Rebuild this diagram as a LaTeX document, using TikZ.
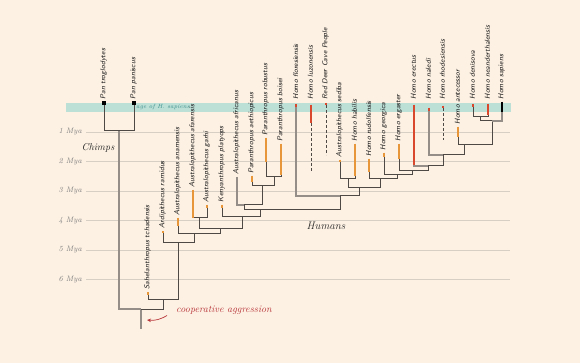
\documentclass[tikz,border=0pt]{standalone}
\usepackage{tikz}
\usetikzlibrary{positioning}
\usetikzlibrary{arrows.meta}

\definecolor{paper}{HTML}{FDF1E3}
\definecolor{band}{HTML}{BCDFD6}
\definecolor{bandtext}{HTML}{3A8F8A}
\definecolor{gridgray}{HTML}{D8CFC4}
\definecolor{treedark}{HTML}{4E4945}
\definecolor{treepale}{HTML}{958E88}
\definecolor{fossilorange}{HTML}{E8963A}
\definecolor{fossilred}{HTML}{D9482C}
\definecolor{aggred}{HTML}{B8353A}

\tikzset{
  tip/.style={rotate=90, anchor=west, inner sep=0.5pt, text=black!90,
    font=\sffamily\itshape\fontsize{7.2}{8}\selectfont},
  mya/.style={anchor=east, inner sep=1pt, text=black!50,
    font=\itshape\fontsize{7.8}{9}\selectfont},
  group/.style={inner sep=1pt, text=black!85, font=\itshape\fontsize{10}{12}\selectfont},
  branch/.style={draw=treedark, line width=1pt},
  pale/.style={draw=treepale, line width=1.3pt},
  axisline/.style={draw=gridgray, line width=0.6pt},
  fossil/.style={draw=fossilorange, line width=1.7pt},
  recent/.style={draw=fossilred, line width=1.7pt},
  unlinked/.style={draw=treedark, line width=0.7pt, densely dashed},
}

\begin{document}
\begin{tikzpicture}[x=1pt,y=-1pt]
\fill[paper] (0,0) rectangle (580,363);
\useasboundingbox (0,0) rectangle (580,363);

% age of H. sapiens
\fill[band] (66,103) rectangle (511,112);
\node[inner sep=0pt, text=bandtext, font=\itshape\fontsize{6}{7}\selectfont]
  (sapband) at (163,107.5) {age of H. sapiens};

% time axis
\foreach \t in {1,...,6}{
  \draw[axisline] (86,{102.5+29.5*\t}) -- (510,{102.5+29.5*\t});
  \node[mya] (mya\t) at (83,{102.5+29.5*\t}) {\t\ Mya};
}

% tips: name / x / top / label
\foreach \n/\x/\y/\t in {
  pt/104/102/Pan troglodytes, pp/134/102/Pan paniscus,
  sah/148/292/Sahelanthropus tchadensis, ard/163/231/Ardipithecus ramidus,
  ana/178/218/Australopithecus anamensis, afa/193/190/Australopithecus afarensis,
  gar/207/205/Australopithecus garhi, ken/222/205/Kenyanthropus platyops,
  afr/237/177/Australopithecus africanus, aet/252/176/Paranthropus aethiopicus,
  rob/266/138/Paranthropus robustus, boi/281/144/Paranthropus boisei,
  flo/296/104/Homo floresiensis, luz/311/105/Homo luzonensis,
  rdc/326/103/Red Deer Cave People, sed/340/160/Australopithecus sediba,
  hab/355/144/Homo habilis, rud/369/159/Homo rudolfensis,
  geo/384/153/Homo georgica, erg/399/144/Homo ergaster,
  ere/414/105/Homo erectus, nal/429/108/Homo naledi,
  rho/443/106/Homo rhodesiensis, ant/458/127/Homo antecessor,
  den/473/104/Homo denisova, nea/488/104/Homo neanderthalensis,
  sap/502/102/Homo sapiens}{
  \coordinate (\n) at (\x,\y);
  \pgfmathsetmacro\ly{\y>112 ? \y-2 : 100}
  \node[tip] (\n-lab) at ({\x-0.5},\ly) {\t};
}

% internal nodes
\coordinate (nPan) at (119,131);
\coordinate (root) at (141,309);
\coordinate (base) at (141,329);
\coordinate (nS) at (163,299);
\coordinate (nA) at (178,242);
\coordinate (nB) at (194,233);
\coordinate (nC) at (220,228);
\coordinate (nAG) at (199,218);
\coordinate (nD) at (242,217);
\coordinate (nHum) at (260,210);
\coordinate (nAfr) at (244,205);
\coordinate (nPar) at (262,186);
\coordinate (nRB) at (274,177);
\coordinate (nFlo) at (340,196);
\coordinate (nHab) at (359,188);
\coordinate (nSH) at (348,179);
\coordinate (nRud) at (380,179);
\coordinate (nGeo) at (397,175);
\coordinate (nErg) at (412,171);
\coordinate (nEre) at (428,166);
\coordinate (nNal) at (443,155);
\coordinate (nAnt) at (464,145);
\coordinate (nSap) at (492,121);
\coordinate (nDN) at (480,117);

% branches
\draw[pale] (nPan) |- (root);
\draw[pale] (root) -- (base);
\foreach \c/\p in {pt/nPan, pp/nPan, nS/root, sah/nS, nA/nS, ard/nA, nB/nA,
  ana/nB, nC/nB, nAG/nC, afa/nAG, gar/nAG, nD/nC, ken/nD, nHum/nD,
  nAfr/nHum, nPar/nAfr, aet/nPar, nRB/nPar, rob/nRB, boi/nRB,
  nFlo/nHum, nHab/nFlo, nSH/nHab, sed/nSH, hab/nSH, nRud/nHab, rud/nRud,
  nGeo/nRud, geo/nGeo, nErg/nGeo, erg/nErg, nEre/nErg, nNal/nEre,
  nAnt/nNal, ant/nAnt, nSap/nAnt, nDN/nSap, den/nDN, nea/nDN}
  \draw[branch] (\c) |- (\p);
\foreach \c/\p in {afr/nAfr, flo/nFlo, ere/nEre, nal/nNal, sap/nSap}
  \draw[pale] (\c) |- (\p);

% floating lineages
\draw[unlinked] (luz) ++(0,18) -- ++(0,48);
\draw[unlinked] (rdc) ++(0,2) -- ++(0,50);
\draw[unlinked] (rho) ++(0,2) -- ++(0,32);

% fossil ranges
\foreach \n/\l in {sah/3, ard/2, ana/8, afa/28, gar/3, ken/3, aet/6, rob/24,
  boi/31, sed/2, hab/32, rud/13, geo/4, erg/15, ant/10}
  \draw[fossil] (\n) -- ++(0,\l);
\foreach \n/\l in {flo/3, luz/18, rdc/2, ere/60, nal/3, rho/2, den/3, nea/11}
  \draw[recent] (\n) -- ++(0,\l);
\draw[black, line width=1.7pt] (sap) -- ++(0,10);
\fill[black] (pt) ++(-1.6,-0.5) rectangle ++(3.2,3.2);
\fill[black] (pp) ++(-1.6,-0.5) rectangle ++(3.2,3.2);

% group names
\node[group] (chimps) at (98,148) {Chimps};
\node[group, font=\itshape\fontsize{11}{13}\selectfont] (humans) at (326,226) {Humans};
\node[anchor=west, inner sep=1pt, text=aggred, font=\itshape\fontsize{10}{12}\selectfont]
  (coop) at (175,310) {cooperative aggression};
\coordinate (aggTail) at (167,315.5);
\coordinate (aggHead) at (147,320);
\draw[aggred, line width=0.7pt, -{Stealth[length=4pt,width=3.5pt]}]
  (aggTail) to[bend left=18] (aggHead);
\end{tikzpicture}
\end{document}
